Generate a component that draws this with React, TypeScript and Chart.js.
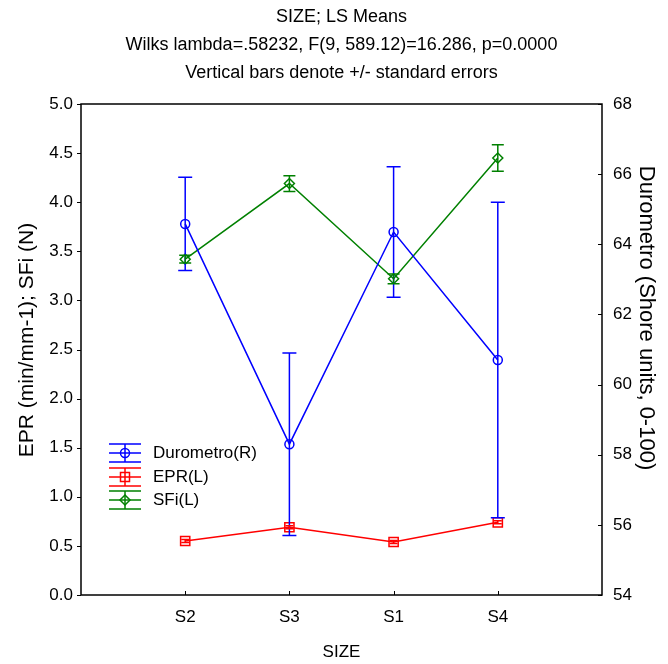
import React, { useEffect, useRef } from "react";
import { Chart, registerables } from "chart.js";

Chart.register(...registerables);

// ---------------- data ----------------
const categories = ["S2", "S3", "S1", "S4"];

const durometroMeans = [64.58, 58.3, 64.35, 60.7];
const durometroSE = [1.33, 2.6, 1.86, 4.5];

const eprMeans = [0.55, 0.69, 0.54, 0.74];
const eprSE = [0.015, 0.015, 0.015, 0.015];

const sfiMeans = [3.42, 4.19, 3.22, 4.45];
const sfiSE = [0.04, 0.08, 0.05, 0.135];

const leftMin = 0;
const leftMax = 5;
const leftStep = 0.5;
const rightMin = 54;
const rightMax = 68;
const rightStep = 2;

const titleLines = [
  "SIZE; LS Means",
  "Wilks lambda=.58232, F(9, 589.12)=16.286, p=0.0000",
  "Vertical bars denote +/- standard errors",
];
const xTitle = "SIZE";
const leftTitle = "EPR (min/mm-1); SFi (N)";
const rightTitle = "Durometro (Shore units, 0-100)";

const legendItems = [
  { label: "Durometro(R)", color: "#0000ff", marker: "circle" },
  { label: "EPR(L)", color: "#ff0000", marker: "rect" },
  { label: "SFi(L)", color: "#008000", marker: "rectRot" },
];

const FONT = "Arial, 'Liberation Sans', sans-serif";
const FS = 17;

const toPoints = (vals: number[]) => vals.map((v, i) => ({ x: i + 1, y: v }));

// ---------------- plugins ----------------
const framePlugin = {
  id: "frame",
  afterDatasetsDraw(chart: any) {
    const { ctx, chartArea } = chart;
    const { left, right, top, bottom } = chartArea;
    ctx.save();
    ctx.strokeStyle = "#000";
    ctx.lineWidth = 1.5;
    ctx.strokeRect(left, top, right - left, bottom - top);
    ctx.lineWidth = 1;
    ctx.beginPath();
    const yl = chart.scales.yL;
    yl.ticks.forEach((t: any) => {
      const y = Math.round(yl.getPixelForValue(t.value)) + 0.5;
      ctx.moveTo(left - 4, y);
      ctx.lineTo(left, y);
    });
    const yr = chart.scales.yR;
    yr.ticks.forEach((t: any) => {
      const y = Math.round(yr.getPixelForValue(t.value)) + 0.5;
      ctx.moveTo(right - 4, y);
      ctx.lineTo(right, y);
    });
    const xs = chart.scales.x;
    xs.ticks.forEach((t: any) => {
      const x = Math.round(xs.getPixelForValue(t.value)) + 0.5;
      ctx.moveTo(x, bottom - 4);
      ctx.lineTo(x, bottom);
    });
    ctx.stroke();
    ctx.restore();
  },
};

const errorBarPlugin = {
  id: "errorBars",
  afterDatasetsDraw(chart: any) {
    const ctx = chart.ctx;
    const xs = chart.scales.x;
    chart.data.datasets.forEach((ds: any) => {
      const ys = chart.scales[ds.yAxisID];
      ctx.save();
      ctx.strokeStyle = ds.borderColor;
      ctx.lineWidth = 1.5;
      ctx.beginPath();
      ds.data.forEach((p: any, j: number) => {
        const se = ds.errors[j];
        const x = xs.getPixelForValue(p.x);
        const yT = ys.getPixelForValue(p.y + se);
        const yB = ys.getPixelForValue(p.y - se);
        const cap = ds.capHalf;
        ctx.moveTo(x, yT);
        ctx.lineTo(x, yB);
        ctx.moveTo(x - cap, yT);
        ctx.lineTo(x + cap, yT);
        ctx.moveTo(x - cap, yB);
        ctx.lineTo(x + cap, yB);
      });
      ctx.stroke();
      ctx.restore();
    });
  },
};

const textPlugin = {
  id: "texts",
  afterDraw(chart: any) {
    const ctx = chart.ctx;
    const { left, right, top, bottom } = chart.chartArea;
    const cx = (left + right) / 2;
    ctx.save();
    ctx.fillStyle = "#000";
    ctx.textAlign = "center";
    ctx.textBaseline = "middle";
    // main titles
    ctx.font = `18px ${FONT}`;
    titleLines.forEach((t, i) => ctx.fillText(t, cx, 17 + i * 28));
    // x title
    ctx.font = `${FS}px ${FONT}`;
    ctx.fillText(xTitle, cx, bottom + 57);
    // left title
    ctx.save();
    ctx.translate(27, top + 236);
    ctx.rotate(-Math.PI / 2);
    ctx.font = `21px ${FONT}`;
    ctx.fillText(leftTitle, 0, 0);
    ctx.restore();
    // right title
    ctx.save();
    ctx.translate(646, top + 214);
    ctx.rotate(Math.PI / 2);
    ctx.font = `22px ${FONT}`;
    ctx.fillText(rightTitle, 0, 0);
    ctx.restore();
    ctx.restore();
  },
};

const legendPlugin = {
  id: "customLegend",
  afterDraw(chart: any) {
    const ctx = chart.ctx;
    const { left, bottom } = chart.chartArea;
    const x0 = left + 28;
    const x1 = x0 + 32;
    const cx = (x0 + x1) / 2;
    const rows = [bottom - 142, bottom - 118, bottom - 95];
    ctx.save();
    legendItems.forEach((it, i) => {
      const y = rows[i];
      ctx.strokeStyle = it.color;
      ctx.lineWidth = 1.5;
      ctx.beginPath();
      ctx.moveTo(x0, y - 9);
      ctx.lineTo(x1, y - 9);
      ctx.moveTo(x0, y);
      ctx.lineTo(x1, y);
      ctx.moveTo(x0, y + 9);
      ctx.lineTo(x1, y + 9);
      ctx.moveTo(cx, y - 9);
      ctx.lineTo(cx, y + 9);
      ctx.stroke();
      ctx.beginPath();
      if (it.marker === "circle") {
        ctx.arc(cx, y, 4.5, 0, Math.PI * 2);
      } else if (it.marker === "rect") {
        ctx.rect(cx - 4.5, y - 4.5, 9, 9);
      } else {
        ctx.moveTo(cx, y - 5);
        ctx.lineTo(cx + 5, y);
        ctx.lineTo(cx, y + 5);
        ctx.lineTo(cx - 5, y);
        ctx.closePath();
      }
      ctx.stroke();
      ctx.fillStyle = "#000";
      ctx.font = `${FS}px ${FONT}`;
      ctx.textBaseline = "middle";
      ctx.textAlign = "left";
      ctx.fillText(it.label, x1 + 12, y);
    });
    ctx.restore();
  },
};

export default function App() {
  const ref = useRef<HTMLCanvasElement | null>(null);

  useEffect(() => {
    if (!ref.current) return;
    const chart = new Chart(ref.current, {
      type: "line",
      data: {
        datasets: [
          {
            label: "Durometro(R)",
            data: toPoints(durometroMeans),
            yAxisID: "yR",
            borderColor: "#0000ff",
            backgroundColor: "transparent",
            borderWidth: 1.5,
            pointStyle: "circle",
            pointRadius: 4.5,
            pointBorderWidth: 1.5,
            pointBackgroundColor: "transparent",
            pointBorderColor: "#0000ff",
            errors: durometroSE,
            capHalf: 7,
          } as any,
          {
            label: "EPR(L)",
            data: toPoints(eprMeans),
            yAxisID: "yL",
            borderColor: "#ff0000",
            backgroundColor: "transparent",
            borderWidth: 1.5,
            pointStyle: "rect",
            pointRadius: 6.5,
            pointBorderWidth: 1.5,
            pointBackgroundColor: "transparent",
            pointBorderColor: "#ff0000",
            errors: eprSE,
            capHalf: 4,
          } as any,
          {
            label: "SFi(L)",
            data: toPoints(sfiMeans),
            yAxisID: "yL",
            borderColor: "#008000",
            backgroundColor: "transparent",
            borderWidth: 1.5,
            pointStyle: "rectRot",
            pointRadius: 5,
            pointBorderWidth: 1.5,
            pointBackgroundColor: "transparent",
            pointBorderColor: "#008000",
            errors: sfiSE,
            capHalf: 6,
          } as any,
        ],
      },
      options: {
        responsive: false,
        animation: false,
        events: [],
        layout: { padding: { top: 104, left: 0, right: 0, bottom: 0 } },
        plugins: {
          legend: { display: false },
          tooltip: { enabled: false },
          title: { display: false },
        },
        scales: {
          x: {
            type: "linear",
            min: 0,
            max: categories.length + 1,
            afterBuildTicks: (scale: any) => {
              scale.ticks = categories.map((_, i) => ({ value: i + 1 }));
            },
            afterFit: (scale: any) => {
              scale.height = 69;
            },
            grid: { display: false, drawTicks: false },
            border: { display: false },
            ticks: {
              autoSkip: false,
              maxRotation: 0,
              padding: 12,
              color: "#000",
              font: { family: FONT, size: FS },
              callback: (v: any) => categories[Number(v) - 1] ?? "",
            },
          },
          yL: {
            type: "linear",
            position: "left",
            min: leftMin,
            max: leftMax,
            afterFit: (scale: any) => {
              scale.width = 81;
            },
            grid: { display: false, drawTicks: false },
            border: { display: false },
            ticks: {
              stepSize: leftStep,
              padding: 8,
              color: "#000",
              font: { family: FONT, size: FS },
              callback: (v: any) => Number(v).toFixed(1),
            },
          },
          yR: {
            type: "linear",
            position: "right",
            min: rightMin,
            max: rightMax,
            afterFit: (scale: any) => {
              scale.width = 66;
            },
            grid: { display: false, drawTicks: false },
            border: { display: false },
            ticks: {
              stepSize: rightStep,
              padding: 11,
              color: "#000",
              font: { family: FONT, size: FS },
            },
          },
        },
      } as any,
      plugins: [framePlugin, errorBarPlugin, legendPlugin, textPlugin],
    });
    return () => chart.destroy();
  }, []);

  return (
    <div style={{ position: "absolute", left: 0, top: 0, width: 668, height: 664 }}>
      <canvas ref={ref} width={668} height={664} style={{ display: "block" }} />
    </div>
  );
}
